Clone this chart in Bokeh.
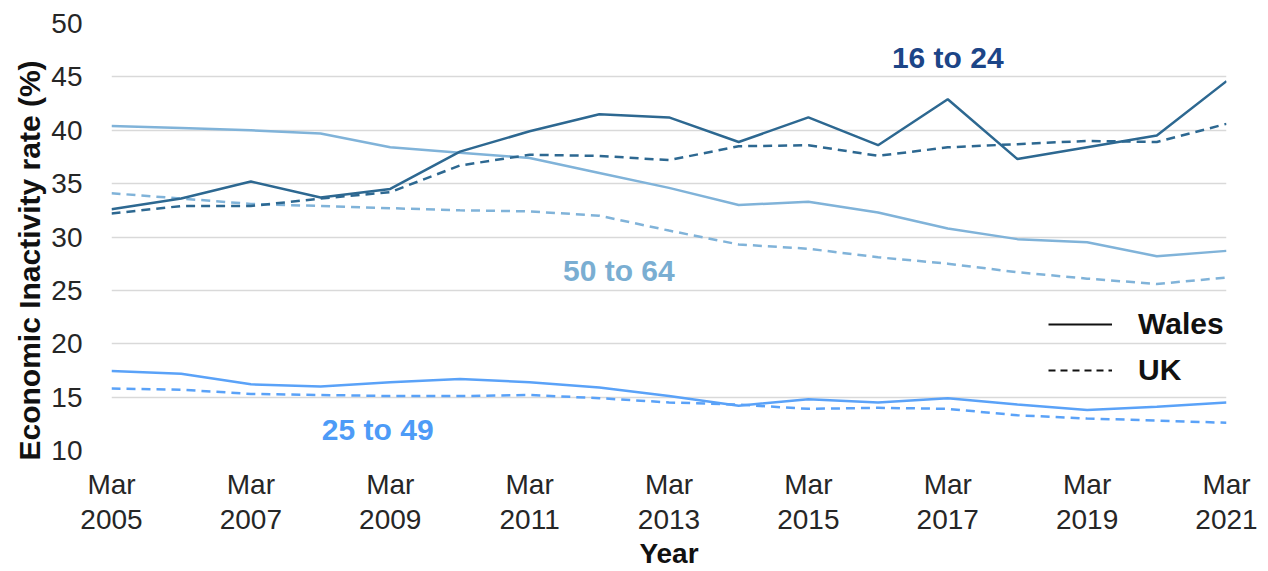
from bokeh.plotting import figure
from bokeh.models import FixedTicker, Label, Legend, LegendItem, Title
from bokeh.embed import file_html
from bokeh.resources import INLINE

years = list(range(2005, 2022))
tick_years = [2005, 2007, 2009, 2011, 2013, 2015, 2017, 2019, 2021]
tick_labels = ["Mar\n%d" % y for y in tick_years]
y_ticks = [10, 15, 20, 25, 30, 35, 40, 45, 50]

wales_16_24 = [32.6, 33.6, 35.2, 33.7, 34.5, 38.0, 39.9, 41.5, 41.2, 38.9, 41.2, 38.6, 42.9, 37.3, 38.4, 39.5, 44.6]
uk_16_24 = [32.2, 32.9, 32.9, 33.6, 34.2, 36.7, 37.7, 37.6, 37.2, 38.5, 38.6, 37.6, 38.4, 38.7, 39.0, 38.9, 40.6]
wales_50_64 = [40.4, 40.2, 40.0, 39.7, 38.4, 37.9, 37.4, 36.0, 34.6, 33.0, 33.3, 32.3, 30.8, 29.8, 29.5, 28.2, 28.7]
uk_50_64 = [34.1, 33.6, 33.1, 32.9, 32.7, 32.5, 32.4, 32.0, 30.6, 29.3, 28.9, 28.1, 27.5, 26.7, 26.1, 25.6, 26.2]
wales_25_49 = [17.45, 17.2, 16.2, 16.0, 16.4, 16.7, 16.4, 15.9, 15.1, 14.2, 14.8, 14.5, 14.9, 14.3, 13.8, 14.1, 14.5]
uk_25_49 = [15.8, 15.7, 15.3, 15.2, 15.1, 15.1, 15.2, 14.9, 14.5, 14.3, 13.9, 14.0, 13.9, 13.3, 13.0, 12.8, 12.6]

FONT = "Liberation Sans"
C_1624 = "#2d6891"
C_5064 = "#80b3d9"
C_2549 = "#5aa2f8"
DASH = "9 6"

p = figure(width=1262, height=571, output_backend="svg", toolbar_location=None,
           x_range=(2005, 2021), y_range=(10, 50),
           min_border_left=111, min_border_right=36, min_border_top=23, min_border_bottom=100)
p.outline_line_color = None
p.xgrid.grid_line_color = None
p.ygrid.grid_line_color = "#d9d9d9"
p.ygrid.grid_line_width = 1.5

for ax in (p.xaxis[0], p.yaxis[0]):
    ax.axis_line_color = None
    ax.major_tick_line_color = None
    ax.minor_tick_line_color = None
    ax.major_tick_out = 0
    ax.major_tick_in = 0
    ax.major_label_text_font = FONT
    ax.major_label_text_color = "#262626"
    ax.axis_label_text_font = FONT
    ax.axis_label_text_font_style = "bold"
    ax.axis_label_text_color = "#111111"

p.xaxis.ticker = FixedTicker(ticks=tick_years)
p.xaxis.major_label_overrides = {y: lab for y, lab in zip(tick_years, tick_labels)}
p.xaxis.major_label_text_font_size = "28px"
p.xaxis.major_label_text_line_height = 1.13
p.xaxis.major_label_standoff = 18
p.xaxis.axis_label = "Year"
p.xaxis.axis_label_text_font_size = "28px"
p.xaxis.axis_label_text_line_height = 1.0
p.xaxis.axis_label_standoff = 0

p.yaxis.ticker = FixedTicker(ticks=y_ticks)
p.yaxis.major_label_text_font_size = "28px"
p.yaxis.major_label_standoff = 29

ytitle = Title(text="Economic Inactivity rate (%)", align="left", offset=-10,
               text_font=FONT, text_font_style="bold", text_font_size="30px",
               text_color="#111111", standoff=6)
p.add_layout(ytitle, "left")

p.line(years, wales_50_64, line_color=C_5064, line_width=2.5)
p.line(years, uk_50_64, line_color=C_5064, line_width=2.5, line_dash=DASH)
p.line(years, wales_25_49, line_color=C_2549, line_width=2.5)
p.line(years, uk_25_49, line_color=C_2549, line_width=2.5, line_dash=DASH)
p.line(years, uk_16_24, line_color=C_1624, line_width=2.5, line_dash=DASH)
p.line(years, wales_16_24, line_color=C_1624, line_width=2.5)

# hidden proxy renderers that only supply the black legend glyphs
r_w = p.line(years, wales_16_24, line_color="#111111", line_width=2.2, visible=False)
r_u = p.line(years, uk_16_24, line_color="#111111", line_width=2.2, line_dash="7 5", visible=False)
legend = Legend(items=[LegendItem(label="Wales", renderers=[r_w]),
                       LegendItem(label="UK", renderers=[r_u])],
                location=(937, 57), orientation="vertical", click_policy="none")
legend.background_fill_alpha = 0
legend.border_line_color = None
legend.inactive_fill_alpha = 0
legend.padding = 0
legend.margin = 0
legend.spacing = 0
legend.glyph_width = 64
legend.glyph_height = 46
legend.label_height = 46
legend.label_standoff = 26
legend.label_text_font = FONT
legend.label_text_font_style = "bold"
legend.label_text_font_size = "30px"
legend.label_text_color = "#111111"
legend.label_text_baseline = "middle"
p.add_layout(legend)

for txt, x, y, col in [("16 to 24", 2017.0, 46.8, "#1c4587"),
                       ("50 to 64", 2012.28, 26.84, "#7aaed2"),
                       ("25 to 49", 2008.82, 11.95, "#4d9bf7")]:
    p.add_layout(Label(x=x, y=y, text=txt, text_font=FONT, text_font_style="bold",
                       text_font_size="30px", text_color=col, text_align="center",
                       text_baseline="middle"))

open("out.html", "w").write(file_html(p, INLINE))
